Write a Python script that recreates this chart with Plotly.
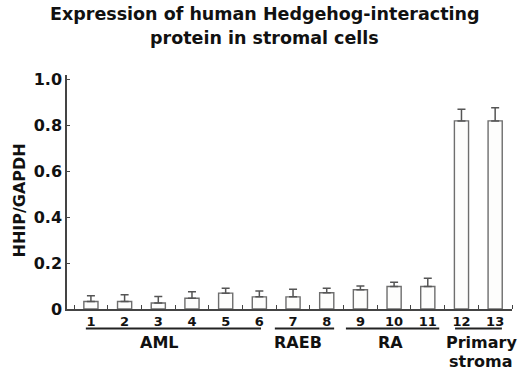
import plotly.graph_objects as go

categories = [str(i) for i in range(1, 14)]
values = [0.033, 0.033, 0.026, 0.047, 0.069, 0.053, 0.053, 0.071, 0.084, 0.098, 0.098, 0.82, 0.82]
errors = [0.025, 0.029, 0.028, 0.028, 0.021, 0.026, 0.033, 0.019, 0.016, 0.019, 0.036, 0.051, 0.057]
groups = ["AML", "RAEB", "RA", "Primary", "stroma"]
group_spans = [(0.85, 6.05), (6.46, 8.22), (8.57, 11.34), (11.81, 13.2)]
group_label_x = [3.05, 7.16, 9.88, 12.58, 12.58]
group_label_y = [-0.145, -0.145, -0.145, -0.145, -0.226]
y_ticks = [0, 0.2, 0.4, 0.6, 0.8, 1.0]
y_tick_text = ["0", "0.2", "0.4", "0.6", "0.8", "1.0"]
title_lines = ["Expression of human Hedgehog-interacting", "protein in stromal cells"]

xpos = list(range(1, 14))
FONT = "DejaVu Sans, sans-serif"
TXT = "#111111"

fig = go.Figure()
fig.add_trace(go.Bar(
    x=xpos, y=values, width=0.42,
    marker=dict(color="#fdfdfc", line=dict(color="#6e6e6e", width=1.4)),
    error_y=dict(type="data", array=errors, arrayminus=[0] * 13, symmetric=False,
                 color="#555555", thickness=1.5, width=4),
))

shapes = []
annotations = []
for x0, x1 in group_spans:
    shapes.append(dict(type="line", xref="x", yref="paper", x0=x0, x1=x1, y0=-0.083, y1=-0.083,
                       line=dict(color="#222222", width=2)))
for name, lx, ly in zip(groups, group_label_x, group_label_y):
    annotations.append(dict(x=lx, y=ly, xref="x", yref="paper", text="<b>%s</b>" % name,
                            showarrow=False, yanchor="middle", xanchor="center",
                            font=dict(family=FONT, size=16, color=TXT)))

for line, ty in zip(title_lines, [1.262, 1.160]):
    annotations.append(dict(x=0.443, y=ty, xref="paper", yref="paper", text="<b>%s</b>" % line,
                            showarrow=False, xanchor="center", yanchor="middle",
                            font=dict(family=FONT, size=17.5, color=TXT)))

annotations.append(dict(x=-0.106, y=0.463, xref="paper", yref="paper", text="<b>HHIP/GAPDH</b>",
                        textangle=-90, showarrow=False, xanchor="center", yanchor="middle",
                        font=dict(family=FONT, size=16, color=TXT)))

fig.update_layout(
    width=520, height=373,
    margin=dict(l=67, r=8, t=75, b=64),
    plot_bgcolor="white", paper_bgcolor="white",
    showlegend=False,
    shapes=shapes, annotations=annotations,
    xaxis=dict(range=[0.29, 13.5], tickvals=xpos, ticktext=["<b>%s</b>" % c for c in categories],
               ticks="", showline=True, linecolor="#444444", linewidth=1.5,
               showgrid=False, zeroline=False,
               tickfont=dict(family=FONT, size=13, color=TXT),
               minor=dict(tickvals=[i + 0.5 for i in range(0, 14)], ticks="inside", ticklen=4,
                          tickcolor="#444444", tickwidth=1.2, showgrid=False)),
    yaxis=dict(range=[0, 1.02], tickvals=y_ticks, ticktext=["<b>%s</b>" % t for t in y_tick_text],
               ticks="inside", ticklen=3, tickcolor="#444444",
               showline=True, linecolor="#444444", linewidth=1.5,
               showgrid=False, zeroline=False,
               tickfont=dict(family=FONT, size=16, color=TXT)),
    bargap=0.5,
)

fig.write_html("out.html", config={"displayModeBar": False},
               post_script="document.body.style.margin='0px';")
